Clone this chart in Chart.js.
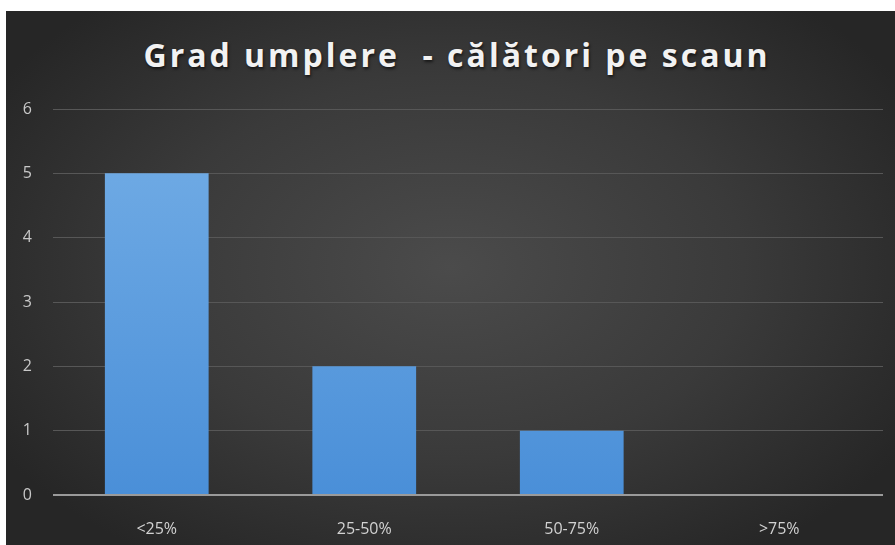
<!DOCTYPE html>
<html>
<head>
<meta charset="utf-8">
<script src="https://cdn.jsdelivr.net/npm/chart.js@4"></script>
<style>
  html, body { margin: 0; padding: 0; background: #fff; }
  #wrap {
    position: absolute; left: 6px; top: 11px; width: 889px; height: 534px;
    background: radial-gradient(ellipse 60% 65% at 50% 48%, #4b4b4b 0%, #3a3a3a 55%, #262626 100%);
    overflow: hidden;
  }
  #title {
    position: absolute; left: 0; width: 902px; top: 22px;
    text-align: center; font-family: 'Open Sans', sans-serif; font-weight: 700;
    font-size: 32px; letter-spacing: 3px; color: #f2f2f2;
    text-shadow: 1px 2px 3px rgba(0,0,0,.6); white-space: pre; margin: 0;
  }
  #chart { position: absolute; left: 0; top: 0; }
</style>
</head>
<body>
<div id="wrap">
  <div id="title">Grad umplere  - călători pe scaun</div>
  <canvas id="chart" width="889" height="534"></canvas>
</div>
<script>
(function () {
  'use strict';

  /* ── Date ───────────────────────────────────── */
  var categories = ['<25%', '25-50%', '50-75%', '>75%'];
  var values = [5, 2, 1, 0];
  var yTicks = [0, 1, 2, 3, 4, 5, 6];

  Chart.defaults.font.family = "'Open Sans', sans-serif";

  var ctx = document.getElementById('chart');
  new Chart(ctx, {
    type: 'bar',
    data: {
      labels: categories,
      datasets: [{
        label: 'Călători pe scaun',
        data: values,
        backgroundColor: function (c) {
          var area = c.chart.chartArea;
          if (!area) return '#5b9bd5';
          var g = c.chart.ctx.createLinearGradient(0, area.top, 0, area.bottom);
          g.addColorStop(0, '#74aee6');
          g.addColorStop(1, '#4a8fd8');
          return g;
        },
        borderWidth: 0,
        categoryPercentage: 1,
        barPercentage: 0.5
      }]
    },
    options: {
      responsive: false,
      animation: false,
      layout: { padding: { left: 0, right: 12, top: 98, bottom: 0 } },
      plugins: {
        legend: { display: false },
        tooltip: { enabled: false }
      },
      scales: {
        x: {
          grid: { display: false },
          border: { display: false },
          ticks: { color: '#d2d2d2', font: { size: 16 }, padding: 17 },
          afterFit: function (s) { s.height = 50; }
        },
        y: {
          min: 0, max: 6,
          afterBuildTicks: function (s) {
            s.ticks = yTicks.map(function (v) { return { value: v }; });
          },
          grid: {
            drawTicks: false,
            color: function (c) { return c.tick && c.tick.value === 0 ? '#9a9a9a' : '#575757'; },
            lineWidth: function (c) { return c.tick && c.tick.value === 0 ? 2 : 1; }
          },
          border: { display: false },
          ticks: { color: '#c8c8c8', font: { size: 16 }, padding: 21 },
          afterFit: function (s) { s.width = 47; }
        }
      }
    }
  });
}());
</script>
</body>
</html>
